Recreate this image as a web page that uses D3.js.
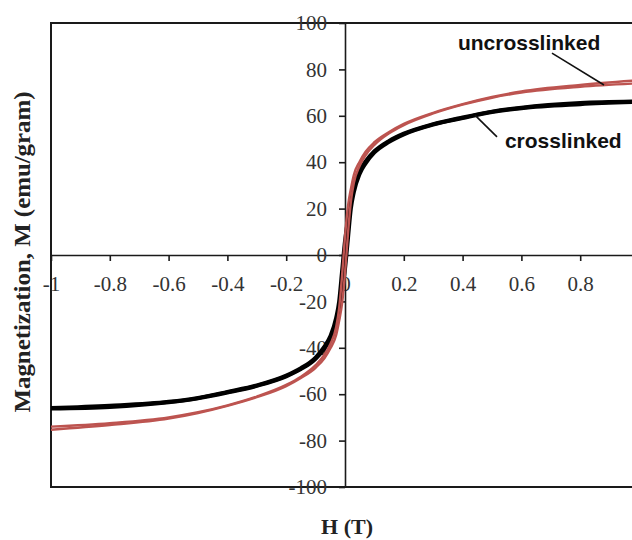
<!DOCTYPE html>
<html>
<head>
<meta charset="utf-8">
<script src="https://cdn.jsdelivr.net/npm/d3@7"></script>
<style>
  body { margin: 0; background: #fff; }
</style>
</head>
<body>
<div id="chart"></div>
<script>
// applied field H (T), shared by every branch
var fieldH = [-1, -0.8, -0.6, -0.5, -0.4, -0.3, -0.2, -0.15, -0.1, -0.07, -0.05, -0.03, -0.02, -0.01, 0,
              0.01, 0.02, 0.03, 0.05, 0.07, 0.1, 0.15, 0.2, 0.3, 0.4, 0.5, 0.6, 0.8, 1];

// crosslinked loop (black)
var crossUpper = [-66, -65, -63.3, -61.6, -59, -56.2, -52, -48.8, -44.2, -39.5, -35, -27, -20, -7, 6,
                  15, 22.5, 29, 36.3, 40.3, 44.7, 49.2, 52.3, 56.4, 59.3, 61.8, 63.5, 65.5, 66.2];
var crossLower = [-66.2, -65.5, -63.5, -61.8, -59.3, -56.4, -52.3, -49.2, -44.7, -40.3, -36.3, -29, -22.5, -15, -6,
                  7, 20, 27, 35, 39.5, 44.2, 48.8, 52, 56.2, 59, 61.6, 63.3, 65, 66];

// uncrosslinked loop (red)
var uncrossUpper = [-74, -72.5, -70, -67.8, -64.8, -61, -56, -52.5, -47.5, -43, -38.5, -31, -23, -9, 8,
                    21, 28.5, 34.5, 40.3, 44.5, 48.6, 53, 56.5, 61.3, 65, 68.1, 70.5, 73.3, 75.3];
var uncrossLower = [-75.3, -73.3, -70.5, -68.1, -65, -61.3, -56.5, -53, -48.6, -44.5, -40.3, -34.5, -28.5, -21, -8,
                    9, 23, 31, 38.5, 43, 47.5, 52.5, 56, 61, 64.8, 67.8, 70, 72.5, 74];

var xTicks = [-1, -0.8, -0.6, -0.4, -0.2, 0, 0.2, 0.4, 0.6, 0.8];
var yTicks = [-100, -80, -60, -40, -20, 0, 20, 40, 60, 80, 100];

// annotation labels: [H, M] and leader lines [H1, M1, H2, M2]
var labelText = ["uncrosslinked", "crosslinked"];
var labelPos = [[0.384, 88.4], [0.544, 46.1]];
var leaderPos = [[0.704, 87, 0.881, 73.3], [0.442, 60.3, 0.517, 50.9]];

var svg_width = 632, svg_height = 540;

var svg = d3.select("#chart")
    .append("svg")
    .attr("width", svg_width)
    .attr("height", svg_height);

var xScale = d3.scaleLinear().domain([-1, 1]).range([51, 639]);
var yScale = d3.scaleLinear().domain([-100, 100]).range([487, 23]);

// plot frame
svg.append("rect")
    .attr("x", xScale(-1))
    .attr("y", yScale(100))
    .attr("width", xScale(1) - xScale(-1))
    .attr("height", yScale(-100) - yScale(100))
    .style("fill", "none")
    .style("stroke", "#1a1a1a")
    .style("stroke-width", "2px");

var fmt = d => String(+d.toFixed(1));

var xAxis = svg.append("g")
    .attr("transform", "translate(0," + yScale(0) + ")")
    .call(d3.axisBottom(xScale).tickValues(xTicks).tickFormat(fmt)
        .tickSize(6).tickSizeOuter(0).tickPadding(15));

var yAxis = svg.append("g")
    .attr("transform", "translate(" + xScale(0) + ",0)")
    .call(d3.axisLeft(yScale).tickValues(yTicks).tickFormat(fmt)
        .tickSize(6).tickSizeOuter(0).tickPadding(12));

[xAxis, yAxis].forEach(function(ax) {
    ax.select(".domain").style("stroke", "#1a1a1a").style("stroke-width", "1.6px");
    ax.selectAll(".tick line").style("stroke", "#1a1a1a").style("stroke-width", "1.6px");
    ax.selectAll(".tick text")
        .style("font-family", "'Liberation Serif', 'Times New Roman', serif")
        .style("font-size", "21px")
        .style("fill", "#333");
});

// axis titles
svg.append("text")
    .attr("transform", "translate(30,252) rotate(-90)")
    .attr("text-anchor", "middle")
    .attr("textLength", 321)
    .attr("lengthAdjust", "spacingAndGlyphs")
    .style("font-family", "'Liberation Serif', 'Times New Roman', serif")
    .style("font-weight", "bold")
    .style("font-size", "23px")
    .style("fill", "#222")
    .text("Magnetization, M (emu/gram)");

svg.append("text")
    .attr("x", 347)
    .attr("y", 534)
    .attr("text-anchor", "middle")
    .style("font-family", "'Liberation Serif', 'Times New Roman', serif")
    .style("font-weight", "bold")
    .style("font-size", "22px")
    .style("fill", "#222")
    .text("H (T)");

var line = d3.line()
    .x((d, i) => xScale(fieldH[i]))
    .y(d => yScale(d))
    .curve(d3.curveMonotoneX);

// black loop first, red drawn over it
[crossUpper, crossLower].forEach(function(branch) {
    svg.append("path")
        .datum(branch)
        .attr("d", line)
        .style("fill", "none")
        .style("stroke", "#000")
        .style("stroke-width", "4px");
});

[uncrossUpper, uncrossLower].forEach(function(branch) {
    svg.append("path")
        .datum(branch)
        .attr("d", line)
        .style("fill", "none")
        .style("stroke", "#bd5450")
        .style("stroke-width", "2.4px");
});

// leaders and labels
svg.append("g").selectAll("line").data(leaderPos)
    .enter().append("line")
    .attr("x1", d => xScale(d[0]))
    .attr("y1", d => yScale(d[1]))
    .attr("x2", d => xScale(d[2]))
    .attr("y2", d => yScale(d[3]))
    .style("stroke", "#111")
    .style("stroke-width", "1.6px");

svg.append("g").selectAll("text").data(labelText)
    .enter().append("text")
    .attr("x", (d, i) => xScale(labelPos[i][0]))
    .attr("y", (d, i) => yScale(labelPos[i][1]))
    .style("font-family", "'Liberation Sans', Arial, sans-serif")
    .style("font-weight", "bold")
    .style("font-size", "21px")
    .style("fill", "#111")
    .text(d => d);
</script>
</body>
</html>
